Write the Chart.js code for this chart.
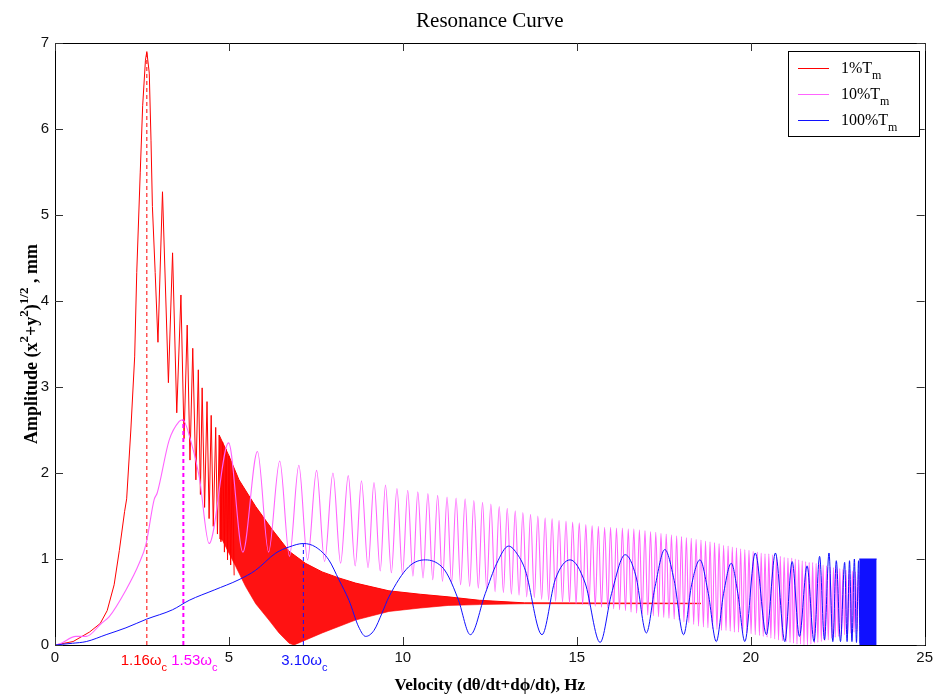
<!DOCTYPE html>
<html><head><meta charset="utf-8">
<script src="https://cdn.jsdelivr.net/npm/chart.js@4/dist/chart.umd.min.js"></script>
<style>html,body{margin:0;padding:0;background:#fff}#wrap{width:937px;height:697px}</style>
</head><body><div id="wrap"><canvas id="c" width="937" height="697"></canvas></div>
<script>
// ---------------- data ----------------
const chartTitle = 'Resonance Curve';
const xTitle = 'Velocity (dθ/dt+dϕ/dt), Hz';
const xTicks = [0, 5, 10, 15, 20, 25];
const yTicks = [0, 1, 2, 3, 4, 5, 6, 7];
const seriesNames = ['1%T', '10%T', '100%T'];
const seriesSub = 'm';

// 1%Tm : resolved part of the curve
const redX = [0,0.13,0.52,0.99,1.3,1.5,1.7,1.85,2.0,2.06,2.18,2.29,2.35,2.45,2.52,2.6,2.64,2.71,2.76,2.8,2.88,2.96,3.09,3.26,3.38,3.5,3.62,3.71,3.8,3.88,3.96,4.05,4.12,4.18,4.23,4.3,4.37,4.43,4.49,4.55,4.62,4.67,4.72,4.77,4.82,4.87,4.92,4.96,5.0,5.05,5.1,5.15];
const redY = [0,0.01,0.04,0.15,0.25,0.4,0.7,1.1,1.55,1.7,2.5,3.35,4.33,5.49,6.27,6.8,6.9,6.65,5.87,5.1,4.33,3.52,5.27,3.05,4.56,2.7,4.07,2.4,3.72,2.15,3.45,1.92,3.2,1.75,2.99,1.6,2.83,1.47,2.67,1.38,2.53,1.29,2.44,1.2,2.36,1.08,2.28,0.99,2.2,0.93,2.12,0.81];
// 1%Tm : dense part, upper and lower envelope of the band
const redTopX = [4.72,5.0,5.29,5.77,6.25,6.73,7.2,7.68,8.16,8.64,9.6,10.5,11.3,12.2,13.5,18.57];
const redTopY = [2.44,2.2,1.92,1.61,1.34,1.09,0.95,0.85,0.78,0.72,0.63,0.59,0.56,0.52,0.49,0.485];
const redLowX = [4.72,4.81,5.2,5.48,5.77,6.15,6.44,6.73,6.87,7.68,8.64,9.6,10.5,11.3,12.2,13.5,18.57];
const redLowY = [1.24,1.22,0.91,0.68,0.48,0.29,0.14,0.02,0.0,0.14,0.29,0.39,0.43,0.46,0.47,0.48,0.48];

// 10%Tm
const magX = [0,0.13,0.6,0.9,1.33,1.56,2.04,2.42,2.62,2.85,2.94,3.28,3.57,3.67,3.9,4.15,4.43,4.99,5.4,5.82,6.14,6.46,6.74,7.01,7.26,7.52,7.75,7.99,8.21,8.43,8.63,8.81,9.0,9.17,9.35,9.5,9.67,9.83,9.99,10.14,10.29,10.43,10.58,10.72,10.86,11.0,11.14,11.27,
11.40,11.53,11.66,11.79,11.92,12.04,12.17,12.29,12.41,12.53,12.65,12.77,12.89,13.00,13.12,13.23,13.34,13.45,13.56,13.67,13.78,13.88,13.99,14.09,14.19,14.29,14.39,14.49,14.59,14.69,14.79,14.88,14.98,15.07,15.17,15.26,15.35,15.44,15.53,15.62,15.71,15.80,15.89,15.97,16.06,16.14,16.23,16.31,16.40,16.48,16.56,16.64,16.72,16.80,16.88,16.96,17.04,17.12,17.20,17.27,17.35,17.42,17.50,17.57,17.65,17.72,17.80,17.87,17.94,18.01,18.08,18.15,18.22,18.29,18.36,18.43,18.50,18.57,18.64,18.70,18.77,18.83,18.90,18.96,19.03,19.09,19.16,19.22,19.29,19.35,19.41,19.47,19.53,19.59,19.65,19.71,19.77,19.83,19.89,19.95,20.01,20.07,20.13,20.19,20.25,20.30,20.36,20.41,20.47,20.52,20.58,20.63,20.69,20.74,20.80,20.85,20.91,20.96,21.02,21.07,21.13,21.18,21.23,21.28,21.33,21.38,21.43,21.48,21.53,21.58,21.63,21.68,21.73,21.78,21.83,21.88,21.93,21.98,22.03,22.08,22.13,22.18,22.23,22.28,22.33,22.38,22.43,22.47,22.52,22.56,22.61,22.65,22.70,22.74,22.79,22.83,22.88,22.92,22.97,23.01,23.06,23.10,23.15,23.19];
const magY = [0,0.01,0.1,0.1,0.25,0.33,0.64,0.95,1.18,1.69,1.77,2.38,2.6,2.62,2.38,1.95,1.18,2.35,1.08,2.25,1.08,2.14,1.03,2.09,0.99,2.03,0.97,2.0,0.95,1.97,0.92,1.91,0.9,1.89,0.86,1.86,0.84,1.82,0.82,1.80,0.80,1.78,0.78,1.76,0.76,1.74,0.74,1.72,
0.72,1.71,0.70,1.70,0.68,1.68,0.66,1.66,0.64,1.64,0.62,1.61,0.61,1.59,0.59,1.56,0.58,1.54,0.56,1.52,0.55,1.50,0.53,1.48,0.52,1.47,0.51,1.45,0.50,1.44,0.49,1.43,0.48,1.42,0.47,1.40,0.46,1.39,0.45,1.38,0.44,1.37,0.43,1.37,0.42,1.36,0.41,1.36,0.40,1.35,0.38,1.35,0.37,1.34,0.36,1.33,0.35,1.32,0.34,1.31,0.33,1.30,0.32,1.29,0.31,1.28,0.30,1.27,0.29,1.26,0.27,1.25,0.26,1.24,0.24,1.23,0.22,1.22,0.21,1.21,0.20,1.20,0.19,1.19,0.18,1.18,0.17,1.16,0.17,1.15,0.16,1.14,0.15,1.13,0.15,1.12,0.14,1.11,0.14,1.10,0.13,1.09,0.12,1.08,0.11,1.07,0.10,1.06,0.09,1.06,0.08,1.05,0.07,1.04,0.06,1.03,0.05,1.02,0.04,1.01,0.03,1.01,0.02,1.00,0.01,0.99,0.01,0.98,0.00,0.97,0.00,0.96,0.01,0.96,0.02,0.95,0.03,0.94,0.04,0.93,0.05,0.92,0.06,0.91,0.08,0.90,0.09,0.90,0.10,0.89,0.11,0.88,0.12,0.87,0.13,0.87,0.14,0.86,0.15,0.85,0.16,0.85,0.17,0.84];

// 100%Tm
const blueX = [0,0.5,0.9,1.47,2.04,2.63,3.38,3.86,4.58,5.29,5.77,6.35,6.73,7.14,7.49,7.87,8.16,8.45,8.73,8.93,9.17,9.4,9.6,10.17,10.65,11.12,11.32,11.6,11.94,12.37,12.7,13.04,13.3,13.52,14.0,14.38,14.81,15.24,15.67,16.0,16.39,16.7,17.0,17.25,17.53,17.8,18.07,18.3,18.54,18.78,19.01,19.22,19.44,19.63,19.83,20.13,20.45,20.71,20.98,21.19,21.4,21.62,21.82,21.98,22.12,22.25,22.36,22.46,22.58,22.7,22.77,22.84,22.91,22.98,23.04,23.1,23.14];
const blueY = [0,0.02,0.04,0.12,0.2,0.3,0.41,0.52,0.64,0.76,0.87,1.07,1.14,1.18,1.14,0.99,0.76,0.52,0.21,0.1,0.17,0.37,0.56,0.91,0.99,0.91,0.79,0.52,0.12,0.6,0.95,1.15,1.05,0.87,0.12,0.76,0.99,0.72,0.03,0.6,1.05,0.8,0.14,0.68,1.11,0.75,0.12,0.7,0.99,0.6,0.04,0.6,0.95,0.6,0.04,1.07,0.12,1.07,0.04,0.97,0.1,0.92,0.04,1.03,0.06,1.07,0.04,0.98,0.04,0.96,0.04,0.98,0.04,1.0,0.03,0.98,0.02];
const blueBandX = [23.12, 23.62];
const blueBandY = [1.0, 1.0];

// resonance markers
const markX = [2.64, 3.69, 7.14];
const markTop = [6.9, 2.62, 1.18];
const markText = ['1.16ω', '1.53ω', '3.10ω'];
const markSub = 'c';

// ---------------- styles ----------------
const RED = '#ff0000', MAG = 'rgb(255,100,255)', MAGD = '#ff00ff', BLUE = '#1010ff';
const SERIF = '"Liberation Serif","Times New Roman",serif';
const SANS = '"Liberation Sans",Arial,sans-serif';

const pts = (xs, ys) => xs.map((x, i) => ({x: x, y: ys[i]}));
const vline = (x, top) => [{x: x, y: 0}, {x: x, y: top}];

const datasets = [
  {data: pts(redTopX, redTopY), borderColor: RED, borderWidth: 1, backgroundColor: 'rgba(255,0,0,0.93)', fill: 1, order: 7},
  {data: pts(redLowX, redLowY), borderColor: 'rgba(255,60,60,0.8)', borderWidth: 1, fill: false, order: 8},
  {data: pts(redX, redY), borderColor: RED, borderWidth: 1, fill: false, order: 6},
  {data: vline(markX[0], markTop[0]), borderColor: RED, borderWidth: 1, borderDash: [4, 3], fill: false, order: 5},
  {data: pts(magX, magY), borderColor: MAG, borderWidth: 1.1, fill: false, cubicInterpolationMode: 'monotone', order: 4},
  {data: vline(markX[1], markTop[1]), borderColor: MAGD, borderWidth: 2, borderDash: [4, 3], fill: false, order: 3},
  {data: pts(blueX, blueY), borderColor: BLUE, borderWidth: 1, fill: false, cubicInterpolationMode: 'monotone', order: 2},
  {data: pts(blueBandX, blueBandY), borderColor: BLUE, borderWidth: 1, backgroundColor: BLUE, fill: 'origin', order: 1},
  {data: vline(markX[2], markTop[2]), borderColor: BLUE, borderWidth: 1, borderDash: [4, 3], fill: false, order: 0}
];

function rich(ctx, parts, x, y, align, size, family, weight, color) {
  let total = 0;
  const f = p => (weight ? weight + ' ' : '') + (p.k === 'n' ? size : Math.round(size * 0.72)) + 'px ' + family;
  parts.forEach(p => { ctx.font = f(p); p.w = ctx.measureText(p.t).width; total += p.w; });
  let cx = align === 'center' ? x - total / 2 : (align === 'right' ? x - total : x);
  ctx.textAlign = 'left'; ctx.textBaseline = 'alphabetic'; ctx.fillStyle = color;
  parts.forEach(p => {
    ctx.font = f(p);
    const dy = p.k === 'sup' ? -size * 0.5 : (p.k === 'sub' ? size * 0.38 : 0);
    ctx.fillText(p.t, cx, y + dy); cx += p.w;
  });
}

const decor = {
  id: 'decor',
  afterDraw(chart) {
    const ctx = chart.ctx, a = chart.chartArea, xs = chart.scales.x, ys = chart.scales.y;
    ctx.save();
    // frame and inward ticks
    ctx.strokeStyle = '#000'; ctx.lineWidth = 1;
    ctx.strokeRect(Math.round(a.left) + 0.5, Math.round(a.top) + 0.5, Math.round(a.right - a.left), Math.round(a.bottom - a.top));
    ctx.strokeStyle = '#333';
    ctx.beginPath();
    xTicks.forEach(v => {
      const px = Math.round(xs.getPixelForValue(v)) + 0.5;
      ctx.moveTo(px, a.bottom); ctx.lineTo(px, a.bottom - 8);
      ctx.moveTo(px, a.top); ctx.lineTo(px, a.top + 8);
    });
    yTicks.forEach(v => {
      const py = Math.round(ys.getPixelForValue(v)) + 0.5;
      ctx.moveTo(a.left, py); ctx.lineTo(a.left + 8, py);
      ctx.moveTo(a.right, py); ctx.lineTo(a.right - 8, py);
    });
    ctx.stroke();
    // title
    ctx.fillStyle = '#000'; ctx.font = '21px ' + SERIF; ctx.textAlign = 'center'; ctx.textBaseline = 'alphabetic';
    ctx.fillText(chartTitle, (a.left + a.right) / 2, 27);
    // x title
    ctx.font = 'bold 17px ' + SERIF;
    ctx.fillText(xTitle, (a.left + a.right) / 2, 690);
    // y title
    ctx.save();
    ctx.translate(37, (a.top + a.bottom) / 2);
    ctx.rotate(-Math.PI / 2);
    rich(ctx, [{t: 'Amplitude (x', k: 'n'}, {t: '2', k: 'sup'}, {t: '+y', k: 'n'}, {t: '2', k: 'sup'}, {t: ')', k: 'n'}, {t: '1/2', k: 'sup'}, {t: ' , mm', k: 'n'}], 0, 0, 'center', 18, SERIF, 'bold', '#000');
    ctx.restore();
    // marker labels
    const cols = [RED, MAGD, BLUE];
    const offs = [-3, 11, 1];
    markX.forEach((v, i) => {
      const px = xs.getPixelForValue(v) + offs[i];
      rich(ctx, [{t: markText[i], k: 'n'}, {t: markSub, k: 'sub'}], px, 665, 'center', 15, SANS, '', cols[i]);
    });
    // legend
    const bx = 788.5, by = 51.5, bw = 131, bh = 85;
    ctx.fillStyle = '#fff'; ctx.fillRect(bx, by, bw, bh);
    ctx.strokeStyle = '#000'; ctx.strokeRect(bx, by, bw, bh);
    const lcols = [RED, MAG, BLUE];
    seriesNames.forEach((n, i) => {
      const ry = 68.5 + i * 26;
      ctx.strokeStyle = lcols[i]; ctx.lineWidth = 1; ctx.beginPath(); ctx.moveTo(798, ry); ctx.lineTo(829, ry); ctx.stroke();
      rich(ctx, [{t: n, k: 'n'}, {t: seriesSub, k: 'sub'}], 841, ry + 4, 'left', 16, SERIF, '', '#000');
    });
    ctx.restore();
  }
};

new Chart(document.getElementById('c'), {
  type: 'line',
  data: {datasets: datasets},
  options: {
    responsive: false, animation: false, devicePixelRatio: 1,
    layout: {padding: {left: 0, right: 10, top: 43, bottom: 0}},
    plugins: {legend: {display: false}, tooltip: {enabled: false}, title: {display: false}},
    elements: {point: {radius: 0}, line: {borderWidth: 1, tension: 0}},
    scales: {
      x: {
        type: 'linear', min: 0, max: 25,
        afterFit: s => { s.height = 52; },
        afterBuildTicks: s => { s.ticks = xTicks.map(v => ({value: v})); },
        grid: {display: false, drawTicks: false}, border: {display: false},
        ticks: {padding: 4, color: '#111', maxRotation: 0, autoSkip: false, font: {family: SANS, size: 15}}
      },
      y: {
        type: 'linear', min: 0, max: 7,
        afterFit: s => { s.width = 55; },
        afterBuildTicks: s => { s.ticks = yTicks.map(v => ({value: v})); },
        grid: {display: false, drawTicks: false}, border: {display: false},
        ticks: {padding: 6, color: '#111', autoSkip: false, font: {family: SANS, size: 15}}
      }
    }
  },
  plugins: [decor]
});
</script>
</body></html>
